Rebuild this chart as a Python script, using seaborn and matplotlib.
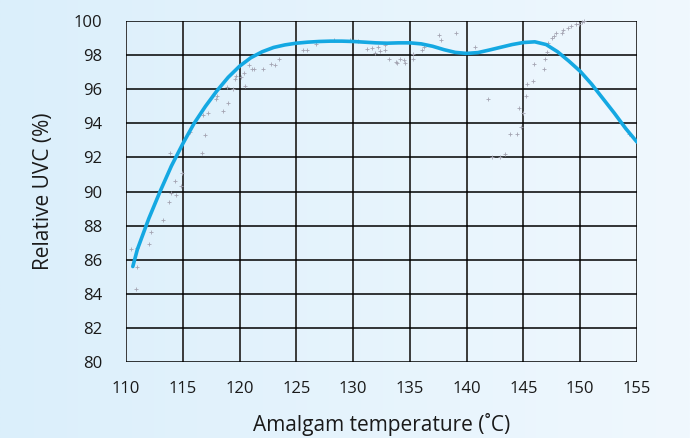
import numpy as np
import pandas as pd
import matplotlib
matplotlib.use('Agg')
import matplotlib.pyplot as plt
from matplotlib.colors import LinearSegmentedColormap
import seaborn as sns

# fitted curve
curve_temp = [110.6, 111, 112, 113, 114, 115, 116, 117, 118, 119, 120, 121, 122, 123,
              124, 125, 126, 127, 128, 129, 130, 131, 132, 133, 134, 135, 136, 137,
              138, 139, 140, 141, 142, 143, 144, 145, 146, 147, 148, 149, 150, 151,
              152, 153, 154, 155]
curve_uvc = [85.6, 86.6, 88.4, 90.0, 91.5, 92.8, 94.0, 95.0, 95.9, 96.7, 97.35, 97.85,
             98.2, 98.45, 98.6, 98.7, 98.76, 98.8, 98.82, 98.82, 98.8, 98.76, 98.72,
             98.7, 98.72, 98.72, 98.66, 98.52, 98.32, 98.16, 98.1, 98.15, 98.3, 98.46,
             98.62, 98.74, 98.78, 98.62, 98.2, 97.65, 97.05, 96.3, 95.45, 94.6, 93.7, 92.9]

# measured points
meas_temp = [110.4, 111.0, 111.0, 110.9, 112.0, 112.2, 113.3, 113.8, 114.0, 114.4, 114.3,
             114.8, 114.9, 113.9, 115.6, 116.7, 117.0, 116.8, 117.2, 117.9, 118.0, 118.5,
             119.0, 118.9, 119.4, 119.6, 119.7, 120.1, 120.4, 120.5, 120.8, 121.1, 121.3,
             122.1, 122.8, 123.1, 123.5, 125.6, 125.9, 126.7, 128.3, 129.7, 130.4, 131.2,
             131.7, 131.9, 132.2, 132.4, 132.8, 132.8, 133.2, 133.8, 133.9, 134.1, 134.5,
             134.6, 135.3, 135.3, 136.1, 136.2, 137.6, 137.7, 139.1, 140.7, 141.9, 142.2,
             142.9, 143.4, 143.8, 144.4, 144.6, 144.8, 145.0, 145.2, 145.3, 145.8, 145.9,
             146.8, 146.9, 147.1, 147.2, 147.5, 147.7, 147.9, 148.4, 148.5, 148.9, 149.2,
             149.6, 149.9, 150.2, 150.3, 154.3]
meas_uvc = [86.6, 86.7, 85.6, 84.3, 86.9, 87.6, 88.3, 89.4, 89.9, 89.8, 90.6, 90.3, 91.1,
            92.25, 93.5, 92.25, 93.3, 94.5, 94.6, 95.4, 95.6, 94.7, 95.2, 96.15, 96.0,
            96.6, 96.8, 96.7, 96.97, 96.2, 97.4, 97.2, 97.2, 97.2, 97.5, 97.4, 97.8, 98.3,
            98.3, 98.65, 98.9, 98.9, 98.8, 98.35, 98.4, 98.1, 98.5, 98.25, 98.6, 98.3,
            97.8, 97.6, 97.55, 97.8, 97.7, 97.55, 97.75, 98.05, 98.3, 98.5, 99.2, 98.9,
            99.3, 98.5, 95.4, 92.0, 92.05, 92.2, 93.4, 93.35, 94.9, 93.8, 94.6, 95.6,
            96.3, 96.5, 97.5, 97.2, 97.75, 98.2, 98.7, 99.0, 99.1, 99.3, 99.3, 99.5, 99.6,
            99.7, 99.8, 99.8, 99.95, 100.0, 93.4]

x_ticks = list(range(110, 156, 5))
y_ticks = list(range(80, 101, 2))

sns.set_style('white')
plt.rcParams['font.family'] = ['Open Sans', 'DejaVu Sans']

fig = plt.figure(figsize=(6.9, 4.38), dpi=100)

# soft blue backdrop
bg = fig.add_axes([0, 0, 1, 1], zorder=-1)
grad = np.linspace(0, 1, 256).reshape(1, -1)
cmap = LinearSegmentedColormap.from_list('bg', ['#dbeffb', '#f0f8fe'])
bg.imshow(grad, aspect='auto', cmap=cmap, extent=[0, 1, 0, 1])
bg.axis('off')

ax = fig.add_axes([0.1826, 0.1735, 0.7406, 0.7785])
ax.set_facecolor('none')

pts = pd.DataFrame({'temp': meas_temp, 'uvc': meas_uvc})
fit = pd.DataFrame({'temp': curve_temp, 'uvc': curve_uvc})

sns.scatterplot(data=pts, x='temp', y='uvc', ax=ax, marker='+', s=6, color='#a4a4b2',
                linewidth=0.6, zorder=3, clip_on=False)
sns.lineplot(data=fit, x='temp', y='uvc', ax=ax, color='#14a8e2', linewidth=2.6, zorder=4)

ax.set_xlim(110, 155)
ax.set_ylim(80, 100)
ax.set_xticks(x_ticks)
ax.set_yticks(y_ticks)
for x in x_ticks:
    ax.axvline(x, color='#3a3a3a', linewidth=1.4, zorder=1)
for y in y_ticks:
    ax.axhline(y, color='black', linewidth=1.1, zorder=1)
for s in ax.spines.values():
    s.set_visible(False)

ax.tick_params(length=0, labelsize=12, colors='#1a1a1a')
ax.tick_params(axis='y', pad=17)
ax.tick_params(axis='x', pad=14)
ax.set_xlabel('Amalgam temperature (˚C)', fontsize=15, color='#1a1a1a', labelpad=11)
ax.set_ylabel('Relative UVC (%)', fontsize=15, color='#1a1a1a', labelpad=14)

plt.savefig('out.png', dpi=100)
